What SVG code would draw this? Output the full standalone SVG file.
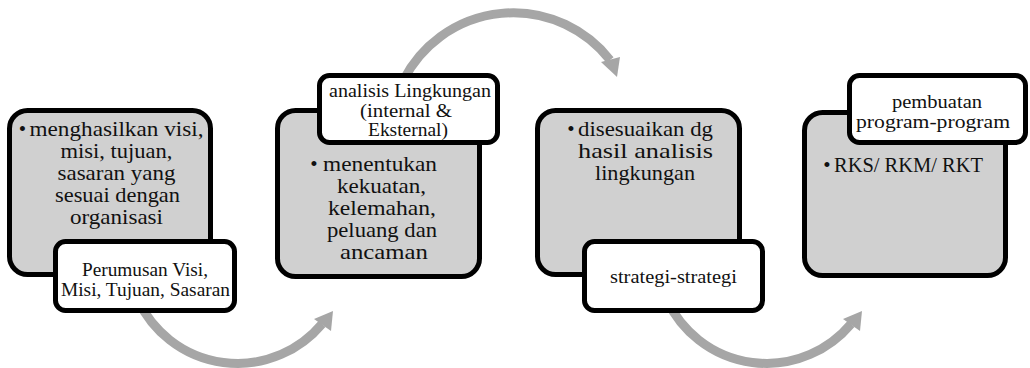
<svg xmlns="http://www.w3.org/2000/svg" width="1030" height="368" viewBox="0 0 1030 368">
<style>
.main{fill:#d0d0d0;stroke:#000;stroke-width:5}
.lab{fill:#fff;stroke:#000;stroke-width:5}
.arc{fill:none;stroke:#a6a6a6;stroke-width:9}
.head{fill:#a6a6a6}
.t{font-family:"Liberation Serif","Times New Roman",serif;font-size:21px;fill:#111;text-anchor:middle}
.s{font-family:"Liberation Serif","Times New Roman",serif;font-size:19.5px;fill:#111;text-anchor:middle}
</style>
<rect width="1030" height="368" fill="#fff"/>
<g id="connectors">
  <path class="arc" d="M 138,300 A 110 110 0 0 0 322,324"/>
  <polygon class="head" points="314,319 333,311 331,331"/>
  <path class="arc" d="M 403.5,80 A 123 123 0 0 1 610,60"/>
  <polygon class="head" points="601,62 620,57 617,77"/>
  <path class="arc" d="M 667,300 A 110 110 0 0 0 851,324"/>
  <polygon class="head" points="843,319 862,311 860,331"/>
</g>
<g id="step1">
  <rect class="main" x="9.5" y="110.5" width="201" height="164" rx="18"/>
  <text class="t" x="22.5" y="136">•</text>
  <text class="t" x="116.5" y="136" textLength="174" lengthAdjust="spacingAndGlyphs">menghasilkan  visi,</text>
  <text class="t" x="116.5" y="158" textLength="112" lengthAdjust="spacingAndGlyphs">misi, tujuan,</text>
  <text class="t" x="116.5" y="180" textLength="118" lengthAdjust="spacingAndGlyphs">sasaran yang</text>
  <text class="t" x="117.5" y="202" textLength="125" lengthAdjust="spacingAndGlyphs">sesuai dengan</text>
  <text class="t" x="116.5" y="224" textLength="93" lengthAdjust="spacingAndGlyphs">organisasi</text>
</g>
<g id="step1-label">
  <rect class="lab" x="55.5" y="241.5" width="179" height="69" rx="10"/>
  <text class="s" x="145" y="276" textLength="126" lengthAdjust="spacingAndGlyphs">Perumusan Visi,</text>
  <text class="s" x="145.5" y="295.5" textLength="169" lengthAdjust="spacingAndGlyphs">Misi, Tujuan, Sasaran</text>
</g>
<g id="step2">
  <rect class="main" x="277.5" y="110.5" width="202" height="166" rx="18"/>
  <text class="t" x="314" y="170.5">•</text>
  <text class="t" x="380" y="170.5" textLength="114" lengthAdjust="spacingAndGlyphs">menentukan</text>
  <text class="t" x="381.5" y="192.5" textLength="89" lengthAdjust="spacingAndGlyphs">kekuatan,</text>
  <text class="t" x="382" y="214.5" textLength="108" lengthAdjust="spacingAndGlyphs">kelemahan,</text>
  <text class="t" x="382" y="236.5" textLength="110" lengthAdjust="spacingAndGlyphs">peluang dan</text>
  <text class="t" x="384" y="258.5" textLength="88" lengthAdjust="spacingAndGlyphs">ancaman</text>
</g>
<g id="step2-label">
  <rect class="lab" x="319.5" y="75.5" width="178" height="67" rx="10"/>
  <text class="s" x="410" y="97" textLength="162" lengthAdjust="spacingAndGlyphs">analisis Lingkungan</text>
  <text class="s" x="406" y="116.5" textLength="92" lengthAdjust="spacingAndGlyphs">(internal &amp;</text>
  <text class="s" x="408" y="136" textLength="80" lengthAdjust="spacingAndGlyphs">Eksternal)</text>
</g>
<g id="step3">
  <rect class="main" x="537.5" y="110.5" width="202" height="164" rx="18"/>
  <text class="t" x="571" y="136">•</text>
  <text class="t" x="645.5" y="136" textLength="135" lengthAdjust="spacingAndGlyphs">disesuaikan dg</text>
  <text class="t" x="645.5" y="158" textLength="135" lengthAdjust="spacingAndGlyphs">hasil analisis</text>
  <text class="t" x="645" y="180" textLength="100" lengthAdjust="spacingAndGlyphs">lingkungan</text>
</g>
<g id="step3-label">
  <rect class="lab" x="584.5" y="241.5" width="178" height="69" rx="10"/>
  <text class="s" x="673.5" y="283" textLength="127" lengthAdjust="spacingAndGlyphs">strategi-strategi</text>
</g>
<g id="step4">
  <rect class="main" x="804.5" y="112.5" width="201" height="163" rx="18"/>
  <text class="t" x="827" y="172">•</text>
  <text class="t" x="908.5" y="172" textLength="149" lengthAdjust="spacingAndGlyphs">RKS/ RKM/ RKT</text>
</g>
<g id="step4-label">
  <rect class="lab" x="849.5" y="75.5" width="176" height="67" rx="10"/>
  <text class="s" x="937" y="108" textLength="90" lengthAdjust="spacingAndGlyphs">pembuatan</text>
  <text class="s" x="933" y="127.5" textLength="154" lengthAdjust="spacingAndGlyphs">program-program</text>
</g>
</svg>
